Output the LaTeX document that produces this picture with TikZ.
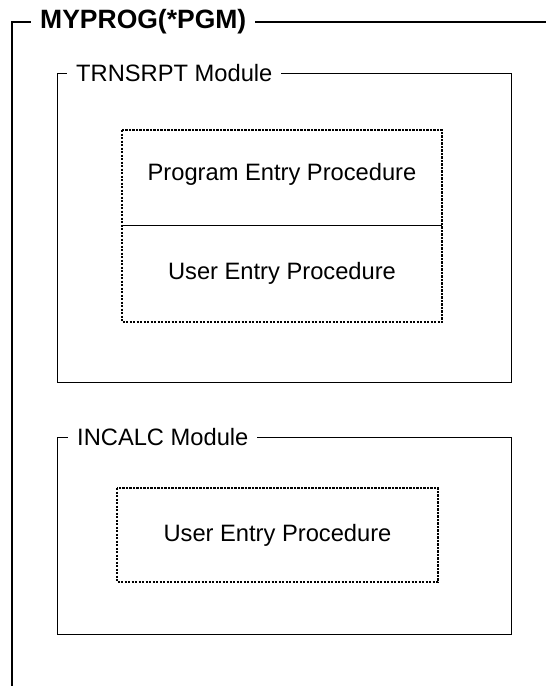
\documentclass[tikz,border=0pt]{standalone}
\usepackage{fontspec}
\setmainfont{Liberation Sans}
\tikzset{
  progline/.style={draw, line width=1.8pt},
  modbox/.style={draw, line width=1pt},
  procbox/.style={draw, line width=1.1pt, dash pattern=on 2.2pt off 1.3pt},
  titletext/.style={fill=white, anchor=west, inner xsep=9pt, inner ysep=0pt, font=\fontsize{23.7}{28}\selectfont},
  proctext/.style={font=\fontsize{23.7}{28}\selectfont}
}
\begin{document}
\begin{tikzpicture}[x=1pt,y=-1pt]
            \useasboundingbox (0,0) rectangle (546,686);
            % Programa MYPROG
            \draw[progline] (546,22) -- (12,22) -- (12,686);
            \node[titletext, font=\bfseries\fontsize{26.5}{30}\selectfont] (myprog) at (31,22) {MYPROG(*PGM)};

            % Modulo TRNSRPT
            \draw[modbox] (57,73) rectangle (511,382);
            \node[titletext] (trnsrpt) at (67,73) {TRNSRPT Module};
            % Procedimientos de TRNSRPT
            \draw[procbox] (122,130) rectangle (442,322);
            \draw[modbox] (122,225) -- (442,225);
            \node[proctext] (pep) at (282,174) {Program Entry Procedure};
            \node[proctext] (uepone) at (282,273) {User Entry Procedure};

            % Modulo INCALC
            \draw[modbox] (57,437) rectangle (511,634);
            \node[titletext] (incalc) at (68,437) {INCALC Module};
            % Procedimiento de INCALC
            \draw[procbox] (117,488) rectangle (438,582);
            \node[proctext] (ueptwo) at (277.5,535) {User Entry Procedure};
        \end{tikzpicture}
\end{document}
